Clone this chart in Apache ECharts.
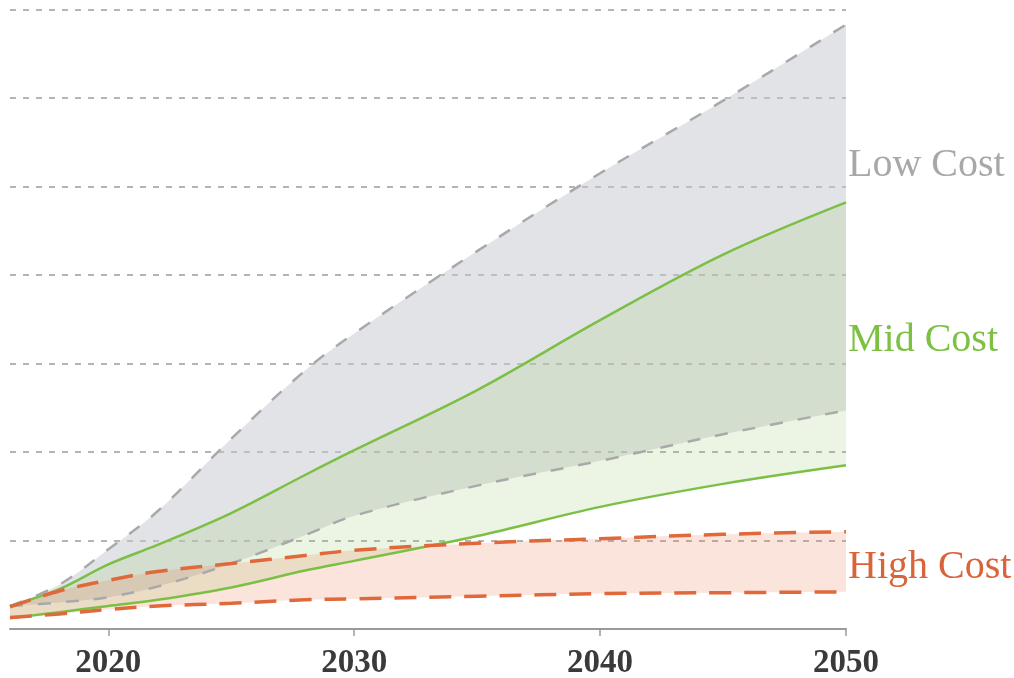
<!DOCTYPE html>
<html>
<head>
<meta charset="utf-8">
<script src="https://cdn.jsdelivr.net/npm/echarts@6/dist/echarts.min.js"></script>
<style>
  html, body { margin: 0; padding: 0; background: #fff; }
  #chart { width: 1014px; height: 678px; }
</style>
</head>
<body>
<div id="chart"></div>
<script>
// Projection years shared by every scenario line
const YEARS = [2016, 2018, 2020, 2022, 2025, 2028, 2030, 2035, 2040, 2045, 2050];

// Scenario bands (upper and lower bound of each cost case)
const LOW_COST_UPPER  = [0.26, 0.50, 0.90, 1.33, 2.15, 2.92, 3.34, 4.27, 5.15, 5.97, 6.83];
const LOW_COST_LOWER  = [0.26, 0.30, 0.36, 0.48, 0.74, 1.06, 1.28, 1.62, 1.90, 2.20, 2.47];
const MID_COST_UPPER  = [0.26, 0.45, 0.73, 0.95, 1.31, 1.74, 2.02, 2.70, 3.49, 4.23, 4.82];
const MID_COST_LOWER  = [0.12, 0.19, 0.26, 0.33, 0.47, 0.66, 0.77, 1.05, 1.38, 1.64, 1.85];
const HIGH_COST_UPPER = [0.25, 0.43, 0.55, 0.65, 0.74, 0.83, 0.89, 0.97, 1.02, 1.07, 1.10];
const HIGH_COST_LOWER = [0.13, 0.17, 0.22, 0.26, 0.29, 0.33, 0.34, 0.37, 0.40, 0.41, 0.42];

const TICK_YEARS = [2020, 2030, 2040, 2050];
const SCENARIO_LABELS = ['Low Cost', 'Mid Cost', 'High Cost'];

const pairs = (vals) => YEARS.map((y, i) => [y, vals[i]]);
// For the stacked band fills the value comes first so that it is the stacked dimension
const valueFirst = (vals) => YEARS.map((y, i) => [vals[i], y]);
const valueFirstDiff = (hi, lo) => YEARS.map((y, i) => [+(hi[i] - lo[i]).toFixed(4), y]);

const SMOOTH = 0.35;

function bandSeries(name, lo, hi, fill, z) {
  return [
    {
      name: name + ' base', type: 'line', stack: name, data: valueFirst(lo),
      encode: { x: 1, y: 0 },
      smooth: SMOOTH, symbol: 'none', showSymbol: false,
      lineStyle: { width: 0, opacity: 0 }, z: z
    },
    {
      name: name + ' band', type: 'line', stack: name, data: valueFirstDiff(hi, lo),
      encode: { x: 1, y: 0 },
      smooth: SMOOTH, symbol: 'none', showSymbol: false,
      lineStyle: { width: 0, opacity: 0 },
      areaStyle: { color: fill, opacity: 1 }, z: z
    }
  ];
}

function boundLine(name, vals, style, z) {
  return {
    name: name, type: 'line', data: pairs(vals), smooth: SMOOTH,
    symbol: 'none', showSymbol: false, lineStyle: style, z: z
  };
}

const greyLine  = { color: '#a9a9ab', width: 2.5, type: [13, 15], cap: 'butt' };
const greenLine = { color: '#7cbf45', width: 2.5, type: 'solid' };
const redLine   = { color: '#e0693c', width: 3.5, type: [22, 13], cap: 'butt' };

const chart = echarts.init(document.getElementById('chart'), null, { renderer: 'canvas' });

chart.setOption({
  animation: false,
  backgroundColor: '#ffffff',
  tooltip: { show: false },
  grid: { left: 10, right: 168, top: 9.5, bottom: 49, containLabel: false, outerBoundsMode: 'none' },
  xAxis: {
    type: 'value', min: 2016, max: 2050,
    axisLine: { show: true, lineStyle: { color: '#9a9a9a', width: 2 } },
    axisTick: { show: true, customValues: TICK_YEARS, length: 7, lineStyle: { color: '#9a9a9a', width: 1.5 } },
    axisLabel: {
      customValues: TICK_YEARS, margin: 18,
      fontFamily: 'Liberation Serif', fontSize: 33, fontWeight: 'bold', color: '#3a3a3a',
      formatter: (v) => String(v)
    },
    splitLine: { show: false }
  },
  yAxis: {
    type: 'value', min: 0, max: 7, interval: 1,
    axisLine: { show: false }, axisTick: { show: false }, axisLabel: { show: false },
    splitLine: { show: true, lineStyle: { color: '#9c9c9c', width: 1.5, type: [6, 7] } }
  },
  series: [
    ...bandSeries('low', LOW_COST_LOWER, LOW_COST_UPPER, 'rgba(198,200,208,0.5)', 2),
    ...bandSeries('mid', MID_COST_LOWER, MID_COST_UPPER, 'rgba(150,200,100,0.18)', 3),
    ...bandSeries('high', HIGH_COST_LOWER, HIGH_COST_UPPER, 'rgba(236,118,78,0.2)', 4),
    boundLine('low upper', LOW_COST_UPPER, greyLine, 10),
    boundLine('low lower', LOW_COST_LOWER, greyLine, 10),
    boundLine('mid upper', MID_COST_UPPER, greenLine, 11),
    boundLine('mid lower', MID_COST_LOWER, greenLine, 11),
    boundLine('high upper', HIGH_COST_UPPER, redLine, 12),
    boundLine('high lower', HIGH_COST_LOWER, redLine, 12)
  ],
  graphic: [
    { type: 'text', left: 848, top: 145, style: { text: SCENARIO_LABELS[0], fill: '#a8a8aa', font: '40px "Liberation Serif"' } },
    { type: 'text', left: 848, top: 320, style: { text: SCENARIO_LABELS[1], fill: '#7dc142', font: '40px "Liberation Serif"' } },
    { type: 'text', left: 848, top: 547, style: { text: SCENARIO_LABELS[2], fill: '#d9643a', font: '40px "Liberation Serif"' } }
  ]
});
</script>
</body>
</html>
